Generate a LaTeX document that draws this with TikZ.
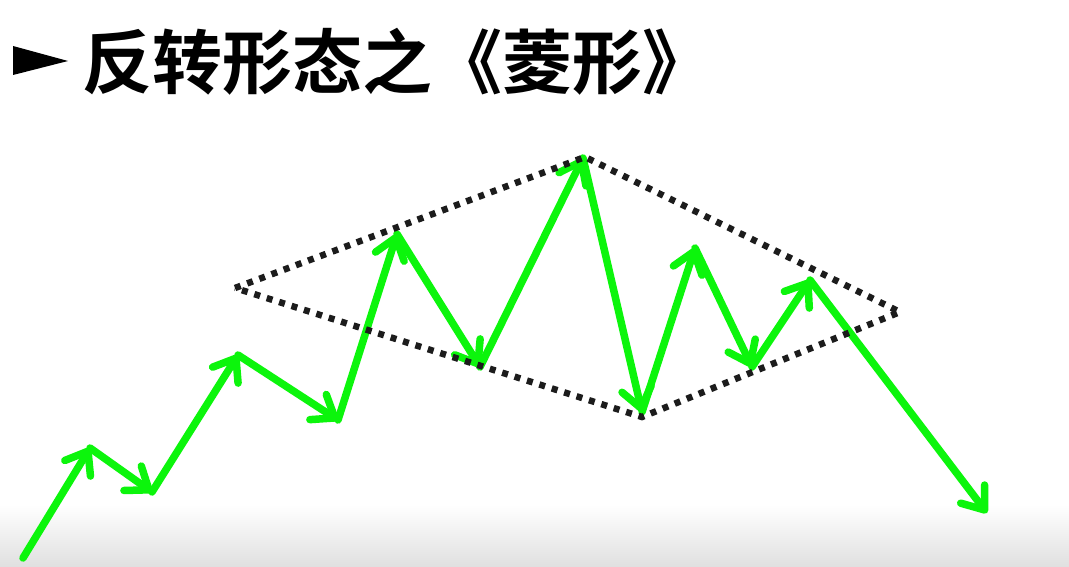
\documentclass[tikz,border=0pt]{standalone}
\usepackage{fontspec}
\newfontfamily\cjkbold{Noto Sans CJK SC Bold}
\usetikzlibrary{arrows.meta}
\definecolor{trendgreen}{RGB}{12,245,12}
\definecolor{dotblack}{RGB}{28,28,28}

\begin{document}
\begin{tikzpicture}[x=1pt, y=1pt,
  wave/.style={trendgreen, line width=7.5pt, line cap=round,
    -{Straight Barb[length=20pt, width=30pt, round]}},
  diamondline/.style={dotblack, line width=6.5pt, dash pattern=on 6pt off 7pt}]
  \useasboundingbox (0,0) rectangle (1069,566);
  \fill[white] (0,0) rectangle (1069,566);
  \shade[top color=white, bottom color=black!12] (0,0) rectangle (1069,62);
  % title
  \fill[black] (13,520) -- (68,505) -- (13,491) -- cycle;
  \node[anchor=base west, inner sep=0pt, font=\cjkbold\fontsize{70}{78}\selectfont]
    (title) at (82,477) {反转形态之《菱形》};
  % price swings
  \coordinate (p0) at (23,8);
  \coordinate (p1) at (90,118);
  \coordinate (p2) at (152,74);
  \coordinate (p3) at (238,211);
  \coordinate (p4) at (338,146);
  \coordinate (p5) at (397,332);
  \coordinate (p6) at (480,199);
  \coordinate (p7) at (583,408);
  \coordinate (p8) at (642,154);
  \coordinate (p9) at (695,318);
  \coordinate (p10) at (752,199);
  \coordinate (p11) at (810,286);
  \coordinate (p12) at (987,53);
  \foreach \a/\b in {p0/p1,p1/p2,p2/p3,p3/p4,p4/p5,p5/p6,p6/p7,p7/p8,p8/p9,p9/p10,p10/p11,p11/p12}
    \draw[wave] (\a) -- (\b);
  % diamond
  \coordinate (dl) at (235,278);
  \coordinate (dt) at (585,409);
  \coordinate (dr) at (900,254);
  \coordinate (db) at (642,149);
  \draw[diamondline] (dl) -- (dt) -- (dr) -- (db) -- cycle;
\end{tikzpicture}
\end{document}
